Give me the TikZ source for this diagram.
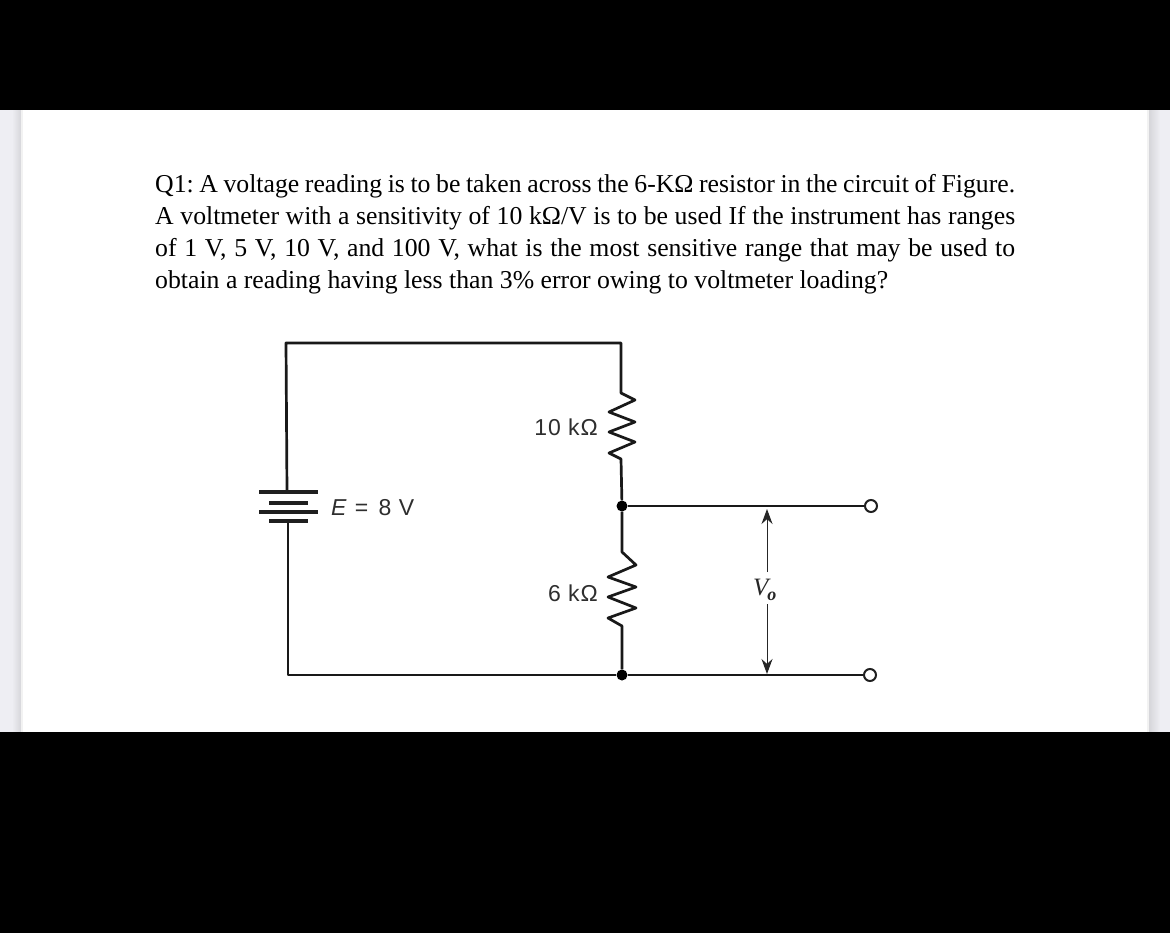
\documentclass[tikz,border=0pt]{standalone}
\usepackage{fontspec}
\setmainfont{Liberation Serif}
\newfontfamily\figfont[LetterSpace=4]{Liberation Sans}
\usetikzlibrary{arrows.meta}
\definecolor{stripa}{HTML}{EEEEF3}
\definecolor{stripb}{HTML}{D6D6DA}
\frenchspacing
\tikzset{
  wire/.style={line width=2.7pt,black!90,line join=round},
  thinwire/.style={line width=1pt,black!85},
  plate/.style={line width=3.2pt,black!88},
  dotnode/.style={circle,fill=black,inner sep=0pt,minimum size=11pt},
  termnode/.style={circle,draw=black!88,fill=white,line width=2pt,inner sep=0pt,minimum size=12pt},
  para/.style={anchor=base west,inner sep=0pt,font=\fontsize{25.75pt}{30pt}\selectfont},
  figlabel/.style={inner sep=0pt,text=black!82,font=\figfont\fontsize{23pt}{24pt}\selectfont},
  dimarrow/.style={thinwire,-{Stealth[length=15pt,width=11pt]}}
}
\newcommand{\jline}[1]{\hbox to 860pt{\spaceskip=0.25em plus 1fil minus 0.1em\relax #1}}
\begin{document}
\begin{tikzpicture}[x=1pt,y=-1pt]
\useasboundingbox (0,0) rectangle (1170,933);
% page background
\fill[white] (23,110) rectangle (1147,732);
\fill[stripa] (0,110) rectangle (12,732);
\shade[left color=stripa,right color=stripb] (12,110) rectangle (21,732);
\fill[black!5] (21,110) rectangle (23,732);
\fill[stripa] (1160,110) rectangle (1170,732);
\shade[left color=stripb,right color=stripa] (1149,110) rectangle (1160,732);
\fill[black!5] (1147,110) rectangle (1149,732);
\fill[black] (0,0) rectangle (1170,110);
\fill[black] (0,732) rectangle (1170,933);
% question text
\node[para] (l1) at (155,193) {\jline{Q1: A voltage reading is to be taken across the 6-K\char"03A9{} resistor in the circuit of Figure.}};
\node[para] (l2) at (155,225) {\jline{A voltmeter with a sensitivity of 10 k\char"03A9/V is to be used If the instrument has ranges}};
\node[para] (l3) at (155,257) {\jline{of 1 V, 5 V, 10 V, and 100 V, what is the most sensitive range that may be used to}};
\node[para] (l4) at (155,289) {obtain a reading having less than 3\% error owing to voltmeter loading?};
% circuit points
\coordinate (tl) at (286,343);
\coordinate (tr) at (621,343);
\coordinate (r1a) at (621,393);
\coordinate (r1b) at (621,459);
\node[dotnode] (j1) at (622,506) {};
\coordinate (r2a) at (622,552);
\coordinate (r2b) at (622,626);
\node[dotnode] (j2) at (622,675) {};
\node[termnode] (t1) at (871,506) {};
\node[termnode] (t2) at (870,675) {};
\coordinate (bl) at (288,675);
\coordinate (b1) at (287,492);
\coordinate (b4) at (288,521);
% wires
\draw[wire] (b1) -- (tl) -- (tr) -- (r1a)
  -- (635,400) -- (609,412) -- (635,422) -- (609,432) -- (635,442) -- (609,453) -- (r1b) -- (j1);
\draw[wire] (j1) -- (r2a)
  -- (636,565) -- (608,577) -- (636,587) -- (608,597) -- (636,608) -- (608,618) -- (r2b) -- (j2);
\draw[wire] (j1) -- (t1);
\draw[wire] (b4) -- (bl) -- (j2) -- (t2);
% battery
\draw[plate] (259,492) -- (318,492);
\draw[plate] (269,503) -- (308,503);
\draw[plate] (259,512) -- (318,512);
\draw[plate] (269,521) -- (308,521);
% labels
\node[figlabel,anchor=base east] (lab1) at (598,435) {10 k\char"03A9};
\node[figlabel,anchor=base east] (lab2) at (598,601) {6 k\char"03A9};
\node[figlabel,anchor=base west] (labE) at (331,515) {\textit{E} =\kern3pt{} 8 V};
\node[inner sep=0pt,anchor=base west,text=black!85,font=\fontsize{25pt}{26pt}\selectfont\itshape] (vo) at (753,595) {V\kern-1pt\raisebox{-5pt}{\fontsize{18pt}{18pt}\selectfont\bfseries o}};
% voltage arrows
\coordinate (a1) at (767,572);
\coordinate (a1e) at (767,509);
\coordinate (a2) at (767,604);
\coordinate (a2e) at (767,674);
\draw[dimarrow] (a1) -- (a1e);
\draw[dimarrow] (a2) -- (a2e);
\end{tikzpicture}
\end{document}
